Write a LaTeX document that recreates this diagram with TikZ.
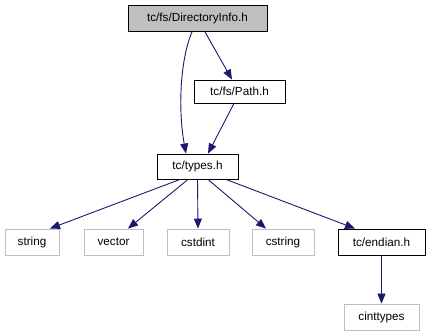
\documentclass[tikz,border=0pt]{standalone}
\usepackage{fontspec}
\setmainfont{Liberation Sans}
\usetikzlibrary{arrows.meta}
\definecolor{edgeblue}{HTML}{191970}
\definecolor{sysgray}{HTML}{BFBFBF}
\tikzset{
  hdr/.style={draw=black, line width=0.9pt, fill=white, minimum height=24pt,
    inner xsep=3pt, font=\fontsize{11.7}{13}\selectfont, text=black},
  mainhdr/.style={hdr, fill=sysgray},
  syshdr/.style={hdr, draw=sysgray},
  dep/.style={draw=edgeblue, line width=0.9pt,
    -{Triangle[length=10pt,width=8pt]}},
}
\begin{document}
\begin{tikzpicture}[x=1pt,y=-1pt]
\useasboundingbox (0,0) rectangle (431,336);
% headers
\node[mainhdr, minimum width=139pt, minimum height=26pt] (dirinfo) at (197.5,18.5) {tc/fs/DirectoryInfo.h};
\node[hdr, minimum width=91pt, minimum height=23pt] (path) at (239.5,91.5) {tc/fs/Path.h};
\node[hdr, minimum width=81pt, minimum height=25pt] (types) at (197.5,166.5) {tc/types.h};
\node[syshdr, minimum width=54pt, minimum height=26pt] (string) at (32,242) {string};
\node[syshdr, minimum width=59pt, minimum height=26pt] (vector) at (113.5,242) {vector};
\node[syshdr, minimum width=62pt, minimum height=26pt] (cstdint) at (198,242) {cstdint};
\node[syshdr, minimum width=62pt, minimum height=26pt] (cstring) at (283,242) {cstring};
\node[hdr, minimum width=87pt, minimum height=26pt] (endian) at (381.5,242) {tc/endian.h};
\node[syshdr, minimum width=75pt, minimum height=26pt] (cinttypes) at (381.5,317) {cinttypes};
% include edges
\draw[dep] (dirinfo.south -| 192,0) .. controls (180,60) and (178,110) .. (types.north -| 186,0);
\draw[dep] (dirinfo.south -| 205,0) -- (path.north -| 232,0);
\draw[dep] (path.south -| 234,0) -- (types.north -| 208,0);
\draw[dep] (types.south -| 180,0) -- (string.north -| 50,0);
\draw[dep] (types.south -| 188,0) -- (vector.north -| 128,0);
\draw[dep] (types.south) -- (cstdint.north);
\draw[dep] (types.south -| 208,0) -- (cstring.north -| 266,0);
\draw[dep] (types.south -| 226,0) -- (endian.north -| 355,0);
\draw[dep] (endian.south) -- (cinttypes.north);
\end{tikzpicture}
\end{document}
